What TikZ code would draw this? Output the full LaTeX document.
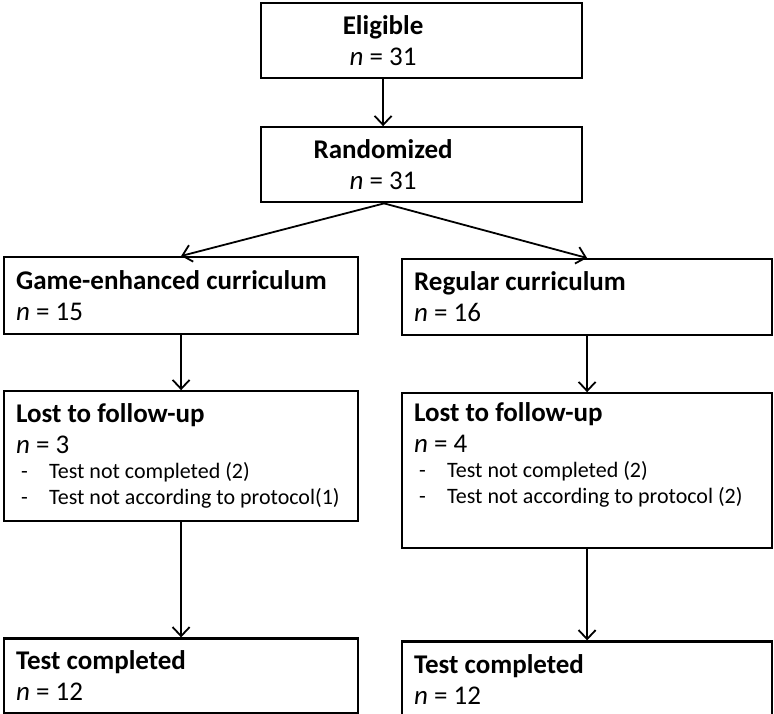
\documentclass[tikz,border=0pt]{standalone}
\usepackage{fontspec}
\setmainfont{Carlito}
\usetikzlibrary{arrows.meta, positioning}

\newcommand{\midline}[1]{\makebox[244pt]{#1}}
\newcommand{\lossline}[1]{{\fontsize{22}{26}\selectfont\makebox[33pt][l]{\hspace{5pt}-}#1}}

\begin{document}
\begin{tikzpicture}[x=1pt, y=-1pt,
    node distance=47pt and 44pt,
    box/.style={draw, line width=2.2pt, anchor=north west, inner xsep=0pt, inner ysep=0pt,
                align=flush left, font=\fontsize{27}{31}\selectfont},
    topbox/.style={box, text width=321pt, minimum height=75pt},
    sidebox/.style={box, inner xsep=12pt, text width=#1-24pt},
    arr/.style={-{Straight Barb[length=9pt, width=17pt]}, line width=1.8pt}
  ]
  \useasboundingbox (0,0) rectangle (774,714);

  \node[topbox] (elig) at (260,2) {\midline{\textbf{Eligible}}\\\midline{\textit{n} = 31}};
  \node[topbox, below=47pt of elig] (rand) {\midline{\textbf{Randomized}}\\\midline{\textit{n} = 31}};

  \node[sidebox=354pt, minimum height=77pt] (game) at (3,256)
    {\textbf{Game-enhanced curriculum}\\\textit{n} = 15};
  \node[sidebox=370pt, minimum height=76pt] (reg) at (401,258)
    {\textbf{Regular curriculum}\\\textit{n} = 16};

  \node[sidebox=354pt, minimum height=130pt, below=55pt of game, anchor=north] (lostL)
    {\textbf{Lost to follow-up}\\\textit{n} = 3\\[-6pt]
     \lossline{Test not completed (2)}\\[-5pt]
     \lossline{Test not according to protocol(1)}};
  \node[sidebox=370pt, minimum height=155pt, below=56pt of reg, anchor=north] (lostR)
    {\textbf{Lost to follow-up}\\\textit{n} = 4\\[-6pt]
     \lossline{Test not completed (2)}\\[-5pt]
     \lossline{Test not according to protocol (2)}\\[4pt]\mbox{}};

  \node[sidebox=354pt, minimum height=75pt, below=115pt of lostL, anchor=north] (testL)
    {\textbf{Test completed}\\\textit{n} = 12};
  \node[sidebox=370pt, minimum height=76pt, below=91pt of lostR, anchor=north] (testR)
    {\textbf{Test completed}\\\textit{n} = 12};

  % split point below the randomisation box
  \coordinate (split) at ([xshift=-37.5pt]rand.south);

  \draw[arr] ([xshift=-38.5pt]elig.south) -- ([xshift=-38.5pt]rand.north);
  \draw[arr] (split) -- (game.north);
  \draw[arr] (split) -- (reg.north);
  \draw[arr] (game) -- (lostL);
  \draw[arr] (reg) -- (lostR);
  \draw[arr] (lostL) -- (testL);
  \draw[arr] (lostR) -- (testR);
\end{tikzpicture}
\end{document}
